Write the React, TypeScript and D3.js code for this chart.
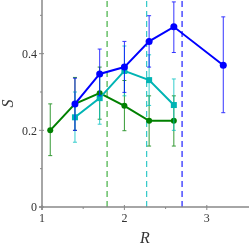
import React from "react";
import * as d3 from "d3";

const blueX = [1.4, 1.7, 2.0, 2.3, 2.6, 3.2];
const blueY = [0.269, 0.347, 0.365, 0.432, 0.47, 0.37];
const blueLo = [0.2, 0.29, 0.299, 0.365, 0.403, 0.246];
const blueHi = [0.336, 0.412, 0.432, 0.499, 0.535, 0.496];

const cyanX = [1.4, 1.7, 2.0, 2.3, 2.6];
const cyanY = [0.234, 0.284, 0.355, 0.331, 0.266];
const cyanLo = [0.169, 0.216, 0.29, 0.265, 0.2];
const cyanHi = [0.3, 0.35, 0.42, 0.397, 0.334];

const greenX = [1.1, 1.4, 1.7, 2.0, 2.3, 2.6];
const greenY = [0.2, 0.269, 0.297, 0.264, 0.225, 0.225];
const greenLo = [0.134, 0.2, 0.229, 0.199, 0.159, 0.159];
const greenHi = [0.269, 0.338, 0.365, 0.33, 0.29, 0.29];

const thresholds = [
  { r: 1.79, color: "#44b044" },
  { r: 2.27, color: "#30c8c8" },
  { r: 2.7, color: "#2020ff" }
];

const yTicks = [0, 0.2, 0.4];
const yMinor = [0.1, 0.3, 0.5];
const xTicks = [1, 2, 3];
const xMinor = [1.5, 2.5];

const W = 249;
const H = 246;

export default function App() {
  const x = d3.scaleLinear().domain([1, 3.5]).range([42, 248]);
  const y = d3.scaleLinear().domain([0, 0.54]).range([207, 0]);
  const line = d3
    .line<[number, number]>()
    .x(d => x(d[0]))
    .y(d => y(d[1]));

  const series = [
    { xs: greenX, ys: greenY, lo: greenLo, hi: greenHi, color: "#008000", bar: "#008000", marker: "circle", r: 3 },
    { xs: cyanX, ys: cyanY, lo: cyanLo, hi: cyanHi, color: "#00b4b4", bar: "#00c0c0", marker: "square", r: 3 },
    { xs: blueX, ys: blueY, lo: blueLo, hi: blueHi, color: "#0000ff", bar: "#0000ff", marker: "circle", r: 3.5 }
  ];

  const axisColor = "#888";
  const font = "'Liberation Serif', 'DejaVu Serif', serif";

  return (
    <div style={{ position: "fixed", left: 0, top: 0 }}>
      <svg width={W} height={H} style={{ display: "block" }}>
        {thresholds.map((t, i) => (
          <line
            key={"t" + i}
            x1={x(t.r)}
            x2={x(t.r)}
            y1={y(0)}
            y2={0}
            stroke={t.color}
            strokeWidth={1.2}
            strokeDasharray="6,4"
          />
        ))}
        {series.map((s, si) => (
          <g key={"s" + si}>
            {s.xs.map((xv, i) => (
              <g key={i} stroke={s.bar} strokeWidth={1} opacity={0.8}>
                <line x1={x(xv)} x2={x(xv)} y1={y(s.lo[i])} y2={y(s.hi[i])} />
                <line x1={x(xv) - 2} x2={x(xv) + 2} y1={y(s.lo[i])} y2={y(s.lo[i])} />
                <line x1={x(xv) - 2} x2={x(xv) + 2} y1={y(s.hi[i])} y2={y(s.hi[i])} />
              </g>
            ))}
            <path
              d={line(s.xs.map((xv, i) => [xv, s.ys[i]] as [number, number])) || ""}
              fill="none"
              stroke={s.color}
              strokeWidth={2}
            />
            {s.xs.map((xv, i) =>
              s.marker === "square" ? (
                <rect
                  key={"m" + i}
                  x={x(xv) - s.r}
                  y={y(s.ys[i]) - s.r}
                  width={s.r * 2}
                  height={s.r * 2}
                  fill={s.color}
                />
              ) : (
                <circle key={"m" + i} cx={x(xv)} cy={y(s.ys[i])} r={s.r} fill={s.color} />
              )
            )}
          </g>
        ))}
        <line x1={x(1)} x2={x(1)} y1={0} y2={y(0) + 3} stroke={axisColor} strokeWidth={1.5} />
        <line x1={x(1) - 3} x2={W} y1={y(0)} y2={y(0)} stroke={axisColor} strokeWidth={1.5} />
        {yTicks.map(t => (
          <g key={"yt" + t}>
            <line x1={x(1) - 3} x2={x(1) + 2} y1={y(t)} y2={y(t)} stroke={axisColor} />
            <text x={x(1) - 5} y={y(t)} dy="0.35em" textAnchor="end" fontFamily={font} fontSize={12} fill="#333">
              {String(t)}
            </text>
          </g>
        ))}
        {yMinor.map(t => (
          <line key={"ym" + t} x1={x(1) - 2} x2={x(1)} y1={y(t)} y2={y(t)} stroke={axisColor} />
        ))}
        {xTicks.map(t => (
          <g key={"xt" + t}>
            <line x1={x(t)} x2={x(t)} y1={y(0) - 2} y2={y(0) + 3} stroke={axisColor} />
            <text x={x(t)} y={y(0) + 15} textAnchor="middle" fontFamily={font} fontSize={12} fill="#333">
              {String(t)}
            </text>
          </g>
        ))}
        {xMinor.map(t => (
          <line key={"xm" + t} x1={x(t)} x2={x(t)} y1={y(0)} y2={y(0) + 2} stroke={axisColor} />
        ))}
        <text x={145} y={243} textAnchor="middle" fontFamily={font} fontStyle="italic" fontSize={16} fill="#333">
          R
        </text>
        <text
          transform={`translate(13,${y(0.27)}) rotate(-90)`}
          textAnchor="middle"
          fontFamily={font}
          fontStyle="italic"
          fontSize={16}
          fill="#333"
        >
          S
        </text>
      </svg>
    </div>
  );
}
